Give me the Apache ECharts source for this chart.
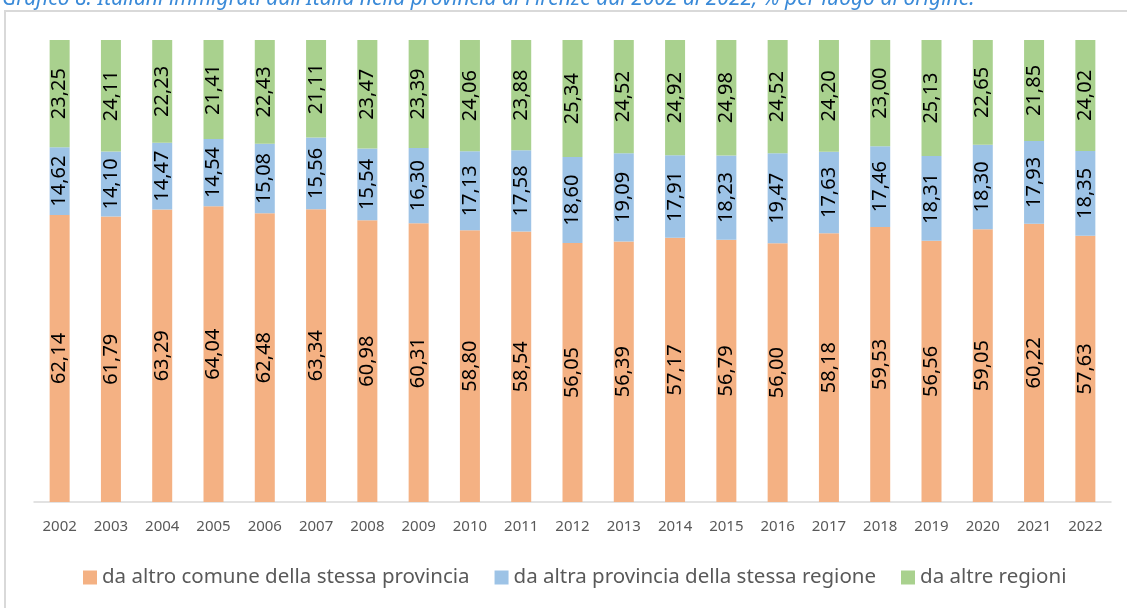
<!DOCTYPE html>
<html>
<head>
<meta charset="utf-8">
<script src="https://cdn.jsdelivr.net/npm/echarts@6/dist/echarts.min.js"></script>
<style>
  html, body { margin: 0; padding: 0; background: #fff; }
  #chart { width: 1127px; height: 608px; }
</style>
</head>
<body>
<div id="chart"></div>
<script>
const years = ['2002','2003','2004','2005','2006','2007','2008','2009','2010','2011','2012',
  '2013','2014','2015','2016','2017','2018','2019','2020','2021','2022'];

const stessaProvincia = [62.14, 61.79, 63.29, 64.04, 62.48, 63.34, 60.98, 60.31, 58.80, 58.54, 56.05,
  56.39, 57.17, 56.79, 56.00, 58.18, 59.53, 56.56, 59.05, 60.22, 57.63];
const stessaRegione = [14.62, 14.10, 14.47, 14.54, 15.08, 15.56, 15.54, 16.30, 17.13, 17.58, 18.60,
  19.09, 17.91, 18.23, 19.47, 17.63, 17.46, 18.31, 18.30, 17.93, 18.35];
const altreRegioni = [23.25, 24.11, 22.23, 21.41, 22.43, 21.11, 23.47, 23.39, 24.06, 23.88, 25.34,
  24.52, 24.92, 24.98, 24.52, 24.20, 23.00, 25.13, 22.65, 21.85, 24.02];

const titleText = "Grafico 8. Italiani immigrati dall'Italia nella provincia di Firenze dal 2002 al 2022, % per luogo di origine.";
const fontFamily = '"Noto Sans", sans-serif';

const fmt = v => v.toFixed(2).replace('.', ',');

const barLabel = {
  show: true,
  position: 'inside',
  rotate: 90,
  color: '#000',
  fontSize: 20,
  fontFamily,
  formatter: p => fmt(p.value)
};

const mkSeries = (name, data, color) => ({
  name,
  type: 'bar',
  stack: 'tot',
  data,
  barWidth: 20,
  itemStyle: { color },
  label: barLabel,
  emphasis: { disabled: true }
});

const chart = echarts.init(document.getElementById('chart'));
chart.setOption({
  animation: false,
  backgroundColor: '#fff',
  title: {
    text: titleText,
    left: -3,
    top: -16,
    textStyle: { color: '#3A8AD8', fontStyle: 'italic', fontWeight: 'normal', fontSize: 21, fontFamily }
  },
  graphic: [
    { type: 'line', shape: { x1: 5, y1: 11, x2: 5, y2: 608 }, style: { stroke: '#d9d9d9', lineWidth: 2 } },
    { type: 'line', shape: { x1: 4, y1: 11, x2: 1127, y2: 11 }, style: { stroke: '#d9d9d9', lineWidth: 2 } }
  ],
  legend: {
    bottom: 15,
    left: 78,
    itemWidth: 14,
    itemHeight: 14,
    itemGap: 25,
    icon: 'rect',
    textStyle: { color: '#595959', fontSize: 20.5, fontFamily },
    data: ['da altro comune della stessa provincia', 'da altra provincia della stessa regione', 'da altre regioni']
  },
  grid: { left: 34, right: 16, top: 40, bottom: 106 },
  xAxis: {
    type: 'category',
    data: years,
    axisLine: { lineStyle: { color: '#d9d9d9', width: 1.5 } },
    axisTick: { show: false },
    axisLabel: { color: '#595959', fontSize: 15, fontFamily, margin: 17 }
  },
  yAxis: {
    type: 'value',
    min: 0,
    max: 100,
    show: false
  },
  series: [
    mkSeries('da altro comune della stessa provincia', stessaProvincia, '#F4B183'),
    mkSeries('da altra provincia della stessa regione', stessaRegione, '#9DC3E6'),
    mkSeries('da altre regioni', altreRegioni, '#A9D18E')
  ]
});
</script>
</body>
</html>
